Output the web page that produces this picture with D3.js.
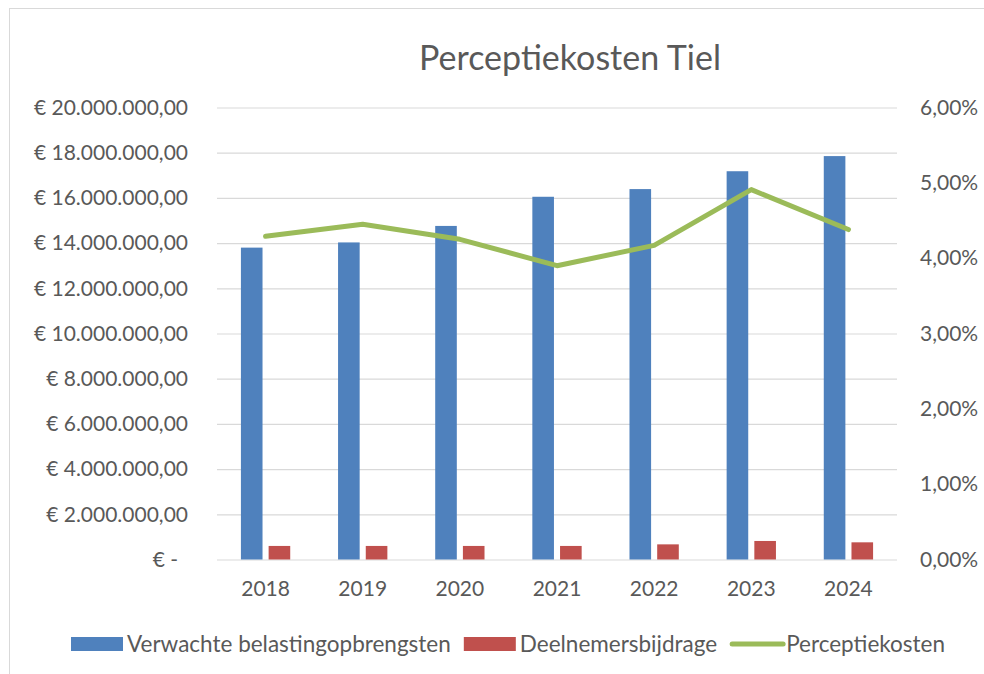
<!DOCTYPE html>
<html>
<head>
<meta charset="utf-8">
<script src="https://cdn.jsdelivr.net/npm/d3@7"></script>
<style>
  body { margin: 0; background: #fff; }
  text { font-family: Lato, "Open Sans", sans-serif; fill: #595959; }
</style>
</head>
<body>
<div id="chart"></div>
<script>
var years = ['2018', '2019', '2020', '2021', '2022', '2023', '2024'];
var verwacht = [13800000, 14030000, 14760000, 16050000, 16390000, 17180000, 17850000];
var deelnemers = [600000, 600000, 600000, 600000, 670000, 820000, 760000];
var perceptie = [0.0429, 0.0445, 0.0425, 0.0390, 0.0417, 0.0491, 0.0438];
var leftTicks = [0, 2e6, 4e6, 6e6, 8e6, 10e6, 12e6, 14e6, 16e6, 18e6, 20e6];
var rightTicks = [0, 0.01, 0.02, 0.03, 0.04, 0.05, 0.06];
var seriesNames = ['Verwachte belastingopbrengsten', 'Deelnemersbijdrage', 'Perceptiekosten'];
var colors = ['#4f81bd', '#c0504d', '#9bbb59'];

var width = 984;
var height = 674;
var plot = {left: 217, right: 897, top: 107.5, bottom: 559.5};

var nl = d3.formatLocale({decimal: ',', thousands: '.', grouping: [3], currency: ['€ ', '']});
var euro = nl.format('$,.2f');
var pct = nl.format('.2%');

var svg = d3.select('#chart')
  .append('svg')
  .attr('width', width)
  .attr('height', height);

svg.append('rect')
  .attr('width', width)
  .attr('height', height)
  .attr('fill', '#fff');

// chart border (runs off right and bottom edge)
svg.append('rect')
  .attr('x', 9.5)
  .attr('y', 8.5)
  .attr('width', 1000)
  .attr('height', 700)
  .attr('fill', 'none')
  .attr('stroke', '#d9d9d9');

var x = d3.scaleBand()
  .domain(years)
  .range([plot.left, plot.right]);

var y = d3.scaleLinear()
  .domain([0, 20e6])
  .range([plot.bottom, plot.top]);

var y2 = d3.scaleLinear()
  .domain([0, 0.06])
  .range([plot.bottom, plot.top]);

// gridlines
svg.append('g')
  .attr('transform', 'translate(' + plot.left + ',0)')
  .call(d3.axisLeft(y).tickValues(leftTicks).tickSize(-(plot.right - plot.left)).tickFormat(''))
  .call(function(g){ g.select('.domain').remove(); })
  .selectAll('line')
  .attr('stroke', '#d9d9d9')
  .attr('stroke-width', 1.2);

// left axis labels
var leftAxis = svg.append('g')
  .attr('transform', 'translate(188,0)')
  .call(d3.axisLeft(y).tickValues(leftTicks).tickSize(0).tickPadding(0)
    .tickFormat(function(d){ return d === 0 ? '€ -' : euro(d); }));
leftAxis.select('.domain').remove();
leftAxis.selectAll('text')
  .attr('fill', '#595959')
  .style('font-size', '21px')
  .attr('x', function(d){ return d === 0 ? -10 : 0; });

// right axis labels
var rightAxis = svg.append('g')
  .attr('transform', 'translate(920,0)')
  .call(d3.axisRight(y2).tickValues(rightTicks).tickSize(0).tickPadding(0).tickFormat(pct));
rightAxis.select('.domain').remove();
rightAxis.selectAll('text')
  .attr('fill', '#595959')
  .style('font-size', '21px');

// x axis labels
var xAxis = svg.append('g')
  .attr('transform', 'translate(0,' + plot.bottom + ')')
  .call(d3.axisBottom(x).tickSize(0).tickPadding(22));
xAxis.select('.domain').remove();
xAxis.selectAll('text')
  .attr('fill', '#595959')
  .style('font-size', '21px');

var barW = x.bandwidth() * 0.2224;
var offset = x.bandwidth() * 0.1426;

svg.append('g')
  .selectAll('rect')
  .data(verwacht)
  .enter()
  .append('rect')
  .attr('x', function(d, i){ return x(years[i]) + x.bandwidth() / 2 - offset - barW / 2; })
  .attr('y', function(d){ return y(d); })
  .attr('width', barW)
  .attr('height', function(d){ return plot.bottom - y(d); })
  .attr('fill', colors[0]);

svg.append('g')
  .selectAll('rect')
  .data(deelnemers)
  .enter()
  .append('rect')
  .attr('x', function(d, i){ return x(years[i]) + x.bandwidth() / 2 + offset - barW / 2; })
  .attr('y', function(d){ return y(d); })
  .attr('width', barW)
  .attr('height', function(d){ return plot.bottom - y(d); })
  .attr('fill', colors[1]);

var line = d3.line()
  .x(function(d, i){ return x(years[i]) + x.bandwidth() / 2; })
  .y(function(d){ return y2(d); });

svg.append('path')
  .datum(perceptie)
  .attr('d', line)
  .attr('fill', 'none')
  .attr('stroke', colors[2])
  .attr('stroke-width', 5)
  .attr('stroke-linejoin', 'round')
  .attr('stroke-linecap', 'round');

// title
svg.append('text')
  .attr('x', 570)
  .attr('y', 70)
  .attr('text-anchor', 'middle')
  .style('font-size', '34px')
  .text('Perceptiekosten Tiel');

// legend
var legend = svg.append('g');
var lx = 71;
var ly = 644;
seriesNames.forEach(function(name, i){
  if(i < 2){
    legend.append('rect')
      .attr('x', lx)
      .attr('y', ly - 7)
      .attr('width', 52)
      .attr('height', 14)
      .attr('fill', colors[i]);
  }else{
    legend.append('line')
      .attr('x1', lx + 2)
      .attr('x2', lx + 53)
      .attr('y1', ly)
      .attr('y2', ly)
      .attr('stroke', colors[i])
      .attr('stroke-width', 5)
      .attr('stroke-linecap', 'round');
  }
  var t = legend.append('text')
    .attr('x', lx + 56)
    .attr('y', ly)
    .attr('dy', '0.35em')
    .style('font-size', '22.5px')
    .text(name);
  lx = lx + 56 + t.node().getComputedTextLength() + 13;
});
</script>
</body>
</html>
